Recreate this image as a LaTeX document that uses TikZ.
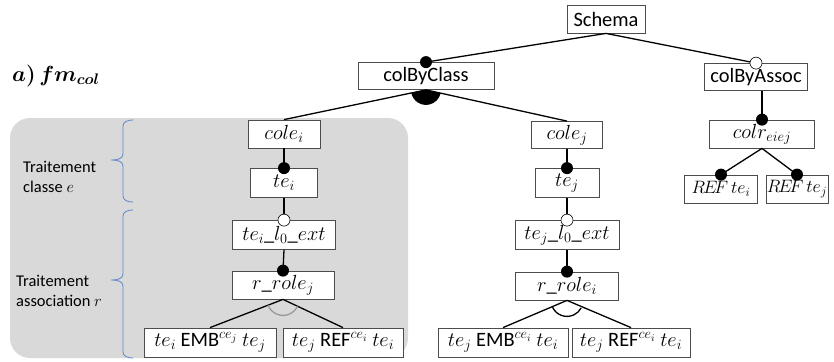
\RequirePackage{fix-cm}
\documentclass[tikz,border=0pt]{standalone}
\usepackage{fontspec}
\setmainfont{Carlito}
\usepackage{bm}
\definecolor{panelgray}{HTML}{D9D9D9}
\definecolor{braceblue}{HTML}{5B87C9}
\newcommand{\myref}{R\mkern-2mu E\mkern-3mu F}
\begin{document}
\begin{tikzpicture}[x=1bp,y=-1bp,
  box/.style={draw=black!70, line width=0.8bp, fill=white, inner sep=0pt,
    font=\fontsize{20.5}{22}\selectfont},
  conn/.style={line width=1.3bp},
  lbl/.style={font=\fontsize{16.5}{20}\selectfont, align=left, anchor=west, inner sep=0pt},
  brc/.style={draw=braceblue, line width=0.8bp}]
\useasboundingbox (0,0) rectangle (834,361);
% panel
\fill[panelgray, rounded corners=20bp] (10,118) rectangle (408,358);
% braces
\draw[brc] (133,120) to[out=180,in=90] (123,126) -- (123,154) to[out=-90,in=0] (111,160)
  to[out=0,in=90] (123,166) -- (123,196) to[out=-90,in=180] (133,202);
\draw[brc] (133,210) to[out=180,in=90] (123,216) -- (123,274) to[out=-90,in=0] (111,280)
  to[out=0,in=90] (123,286) -- (123,352) to[out=-90,in=180] (133,358);
\node[lbl] (lclass) at (23,177) {Traitement\\classe $e$};
\node[lbl] (lassoc) at (16,291) {Traitement\\association $r$};
\node[anchor=west, inner sep=0pt, font=\fontsize{22}{24}\selectfont] (title) at (12,76) {$\bm{a)\,fm_{col}}$};
% nodes
\node[box, minimum width=78bp, minimum height=28bp] (schema) at (606,19) {Schema};
\node[box, minimum width=136bp, minimum height=27bp] (cbc) at (426,76) {colByClass};
\node[box, minimum width=103bp, minimum height=27bp] (cba) at (756,77) {colByAssoc};
\node[box, minimum width=72bp, minimum height=28bp] (colei) at (284,134) {$cole_i$};
\node[box, minimum width=67bp, minimum height=29bp] (tei) at (284,183) {$te_i$};
\node[box, minimum width=103bp, minimum height=29bp] (teiext) at (284,235) {$te_i\_l_0\_ext$};
\node[box, minimum width=102bp, minimum height=28bp] (rrolej) at (283,285) {$r\_role_j$};
\node[box, minimum width=132bp, minimum height=29bp] (leafa) at (210,342.5) {$te_i$ EMB$^{ce_j}$ $te_j$};
\node[box, minimum width=120bp, minimum height=29bp] (leafb) at (343,342.5) {$te_j$ REF$^{ce_i}$ $te_i$};
\node[box, minimum width=71bp, minimum height=27bp] (colej) at (567,135) {$cole_j$};
\node[box, minimum width=64bp, minimum height=29bp] (tej) at (567,183) {$te_j$};
\node[box, minimum width=104bp, minimum height=29bp] (tejext) at (567,235) {$te_j\_l_0\_ext$};
\node[box, minimum width=103bp, minimum height=28bp] (rrolei) at (567,286) {$r\_role_i$};
\node[box, minimum width=130bp, minimum height=29bp] (leafc) at (503,342.5) {$te_j$ EMB$^{ce_i}$ $te_i$};
\node[box, minimum width=118bp, minimum height=29bp] (leafd) at (631,342.5) {$te_j$ REF$^{ce_i}$ $te_i$};
\node[box, minimum width=105bp, minimum height=28bp] (colr) at (762,134) {$colr_{eiej}$};
\node[box, minimum width=73bp, minimum height=28bp, font=\fontsize{18}{20}\selectfont] (refa) at (721,189) {$\myref\,te_i$};
\node[box, minimum width=62bp, minimum height=28bp, font=\fontsize{18}{20}\selectfont] (refb) at (797,189) {$\myref\,te_j$};
% connectors
\draw[conn] (schema.south) -- (cbc.north);
\draw[conn] (schema.south) -- (cba.north);
\draw[conn] (cbc.south) -- (colei.north);
\draw[conn] (cbc.south) -- (colej.north);
\fill (cbc.south) -- ++(-167.7:15bp) arc[start angle=-167.7, end angle=-13, radius=15bp] -- cycle;
\draw[conn] (colei.south) -- (tei.north);
\draw[conn] (tei.south) -- (teiext.north);
\draw[conn] (teiext.south) -- (rrolej.north);
\draw[conn] (rrolej.south) -- (leafa.north);
\draw[conn] (rrolej.south) -- (leafb.north);
\draw[gray!80, line width=1.3bp] (rrolej.south) ++(-158:16bp) arc[start angle=-158, end angle=-26, radius=16bp];
\draw[conn] (colej.south) -- (tej.north);
\draw[conn] (tej.south) -- (tejext.north);
\draw[conn] (tejext.south) -- (rrolei.north);
\draw[conn] (rrolei.south) -- (leafc.north);
\draw[conn] (rrolei.south) -- (leafd.north);
\draw[line width=1.3bp] (rrolei.south) ++(-155:16bp) arc[start angle=-155, end angle=-28, radius=16bp];
\draw[conn] (colr.north) -- (colr.north |- cba.south);
\draw[conn] (colr.south) -- (refa.north);
\draw[conn] (colr.south) -- (refb.north);
% dots
\fill (cbc.north) circle (6bp);
\filldraw[fill=white, line width=0.6bp] (cba.north) circle (6bp);
\fill (tei.north) circle (6bp);
\filldraw[fill=white, line width=0.6bp] (teiext.north) circle (6bp);
\fill (rrolej.north) circle (6bp);
\fill (tej.north) circle (6bp);
\filldraw[fill=white, line width=0.6bp] (tejext.north) circle (6bp);
\fill (rrolei.north) circle (6bp);
\fill (colr.north) circle (6bp);
\fill (refa.north) circle (6bp);
\fill (refb.north) circle (6bp);
\end{tikzpicture}
\end{document}
